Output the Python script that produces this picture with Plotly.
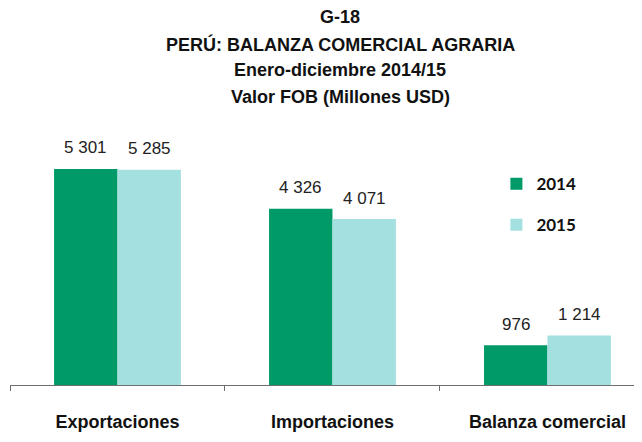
import plotly.graph_objects as go

categories = ["Exportaciones", "Importaciones", "Balanza comercial"]
years = ["2014", "2015"]
values_2014 = [5301, 4326, 976]
values_2015 = [5285, 4071, 1214]
title_lines = ["G-18", "PERÚ: BALANZA COMERCIAL AGRARIA",
               "Enero-diciembre 2014/15", "Valor FOB (Millones USD)"]

colors = ["#009A68", "#A4E0E0"]
W, H = 642, 442
ML, MR, MT, MB = 2, 0, 112, 65
X_RANGE = [-0.5, 2.477]
BARGAP = 0.41
Y_MAX = 6503
PLOT_H = H - MT - MB

fig = go.Figure()
for name, vals, col in zip(years, [values_2014, values_2015], colors):
    fig.add_trace(go.Bar(
        x=categories, y=vals, name=name, marker=dict(color=col, line=dict(width=0)),
        legendgroup=name,
    ))

# value labels above bars
px_per_cat = (W - ML - MR) / (X_RANGE[1] - X_RANGE[0])
bar_w = px_per_cat * (1 - BARGAP) / 2
def fmt(v):
    return f"{v:,}".replace(",", " ")
for k, vals in enumerate([values_2014, values_2015]):
    shift = (-0.5 if k == 0 else 0.5) * bar_w
    for c, v in zip(categories, vals):
        fig.add_annotation(x=c, y=v, xref="x", yref="y", text=fmt(v), showarrow=False,
                           xshift=shift, yshift=21, yanchor="middle",
                           font=dict(family="Liberation Sans, Arial", size=17, color="#222"))

title_y = [9, 36, 62, 89]
for t, yy in zip(title_lines, title_y):
    fig.add_annotation(x=(332 - ML) / (W - ML - MR), y=1 - (yy - MT) / PLOT_H,
                       xref="paper", yref="paper", text=f"<b>{t}</b>",
                       showarrow=False, xanchor="center", yanchor="middle",
                       font=dict(family="Liberation Sans, Arial", size=18, color="#111"))

fig.update_layout(
    width=W, height=H,
    margin=dict(l=ML, r=MR, t=MT, b=MB, autoexpand=False),
    paper_bgcolor="white", plot_bgcolor="white",
    barmode="group", bargap=BARGAP, bargroupgap=0,
    showlegend=True,
    legend=dict(x=0.76, y=0.826, xanchor="left", yanchor="top",
                font=dict(family="Lato, Carlito, sans-serif", size=17, color="#111", weight="bold"),
                tracegroupgap=16, traceorder="grouped", bgcolor="rgba(0,0,0,0)",
                itemwidth=30),
    xaxis=dict(type="category", range=X_RANGE, showline=True, linecolor="#6f6f6f", linewidth=1,
               ticks="outside", tickson="boundaries", ticklen=5, tickcolor="#6f6f6f",
               ticklabelstandoff=20, showgrid=False, zeroline=False,
               tickfont=dict(family="Liberation Sans, Arial", size=18, color="#111", weight="bold")),
    yaxis=dict(range=[0, Y_MAX], visible=False, showgrid=False, zeroline=False),
)

fig.write_html("out.html")
